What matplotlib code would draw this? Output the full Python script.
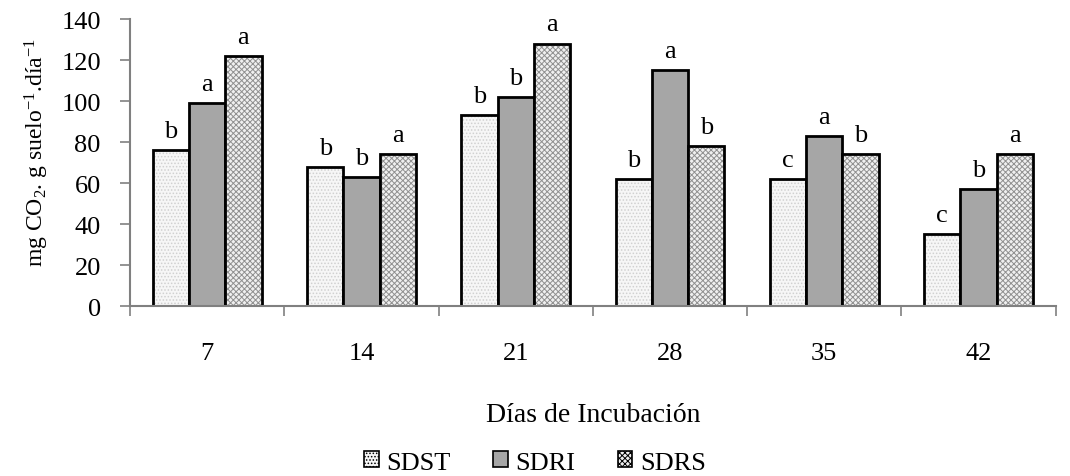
import numpy as np
import matplotlib
matplotlib.use("Agg")
import matplotlib.pyplot as plt
from matplotlib.patches import Patch

plt.rcParams['font.family'] = ['Liberation Serif', 'DejaVu Serif']
plt.rcParams['mathtext.fontset'] = 'custom'
plt.rcParams['mathtext.rm'] = 'Liberation Serif'
plt.rcParams['mathtext.it'] = 'Liberation Serif:italic'
plt.rcParams['hatch.linewidth'] = 0.7

# data
dias = ['7', '14', '21', '28', '35', '42']
series = ['SDST', 'SDRI', 'SDRS']
sdst = [76, 68, 93, 62, 62, 35]
sdri = [99, 63, 102, 115, 83, 57]
sdrs = [122, 74, 128, 78, 74, 74]
letras_sdst = ['b', 'b', 'b', 'b', 'c', 'c']
letras_sdri = ['a', 'b', 'b', 'a', 'a', 'b']
letras_sdrs = ['a', 'a', 'a', 'b', 'b', 'a']

values = [sdst, sdri, sdrs]
letters = [letras_sdst, letras_sdri, letras_sdrs]
styles = [
    dict(facecolor='#f6f6f6', hatch='.....', hatchcolor='#d0d0d0'),
    dict(facecolor='#a6a6a6', hatch='', hatchcolor='#a6a6a6'),
    dict(facecolor='#f0f0f0', hatch='xxxxxx', hatchcolor='#909090'),
]

fig = plt.figure(figsize=(10.7, 4.77), dpi=100)
ax = fig.add_axes([0.1215, 0.356, 0.865, 0.602])

x = np.arange(len(dias))
width = 0.235
for i, (vals, lets, st) in enumerate(zip(values, letters, styles)):
    pos = x + (i - 1) * width
    cont = ax.bar(pos, vals, width=width, facecolor=st['facecolor'], hatch=st['hatch'],
                  edgecolor='black', linewidth=2.0, label=series[i])
    for patch in cont:
        patch._hatch_color = matplotlib.colors.to_rgba(st['hatchcolor'])
    for p, v, l in zip(pos, vals, lets):
        ax.text(p, v + 4, l, ha='center', va='bottom', fontsize=19)

ax.set_xlim(-0.5, len(dias) - 0.5)
ax.set_ylim(0, 140)
ax.set_yticks(np.arange(0, 141, 20))
ax.set_xticks(x)
ax.set_xticklabels(dias)
ax.set_xticks(np.arange(-0.5, len(dias), 1), minor=True)
ax.tick_params(axis='x', which='major', length=0, pad=26, labelsize=19)
ax.tick_params(axis='x', which='minor', length=7, color='#808080', width=1.2)
ax.tick_params(axis='y', length=7, color='#808080', width=1.2, labelsize=19, pad=14)

for s in ['top', 'right']:
    ax.spines[s].set_visible(False)
for s in ['left', 'bottom']:
    ax.spines[s].set_color('#808080')
    ax.spines[s].set_linewidth(1.5)

ax.set_ylabel('mg CO$_2$. g suelo$^{-1}$.día$^{-1}$', fontsize=17, labelpad=6)
ax.yaxis.set_label_coords(-0.085, 0.54)
ax.set_xlabel('Días de Incubación', fontsize=20, labelpad=27)

handles = [Patch(facecolor=st['facecolor'], edgecolor='black', linewidth=1.2,
                 hatch=st['hatch']) for st in styles]
fig.legend(handles, series, loc='lower center', bbox_to_anchor=(0.5, -0.045), ncol=3,
           frameon=False, prop={'family': 'Liberation Serif', 'size': 19},
           handlelength=0.55, handleheight=0.55, handletextpad=0.3, columnspacing=1.6)

fig.savefig('out.png', dpi=100, facecolor='white')
